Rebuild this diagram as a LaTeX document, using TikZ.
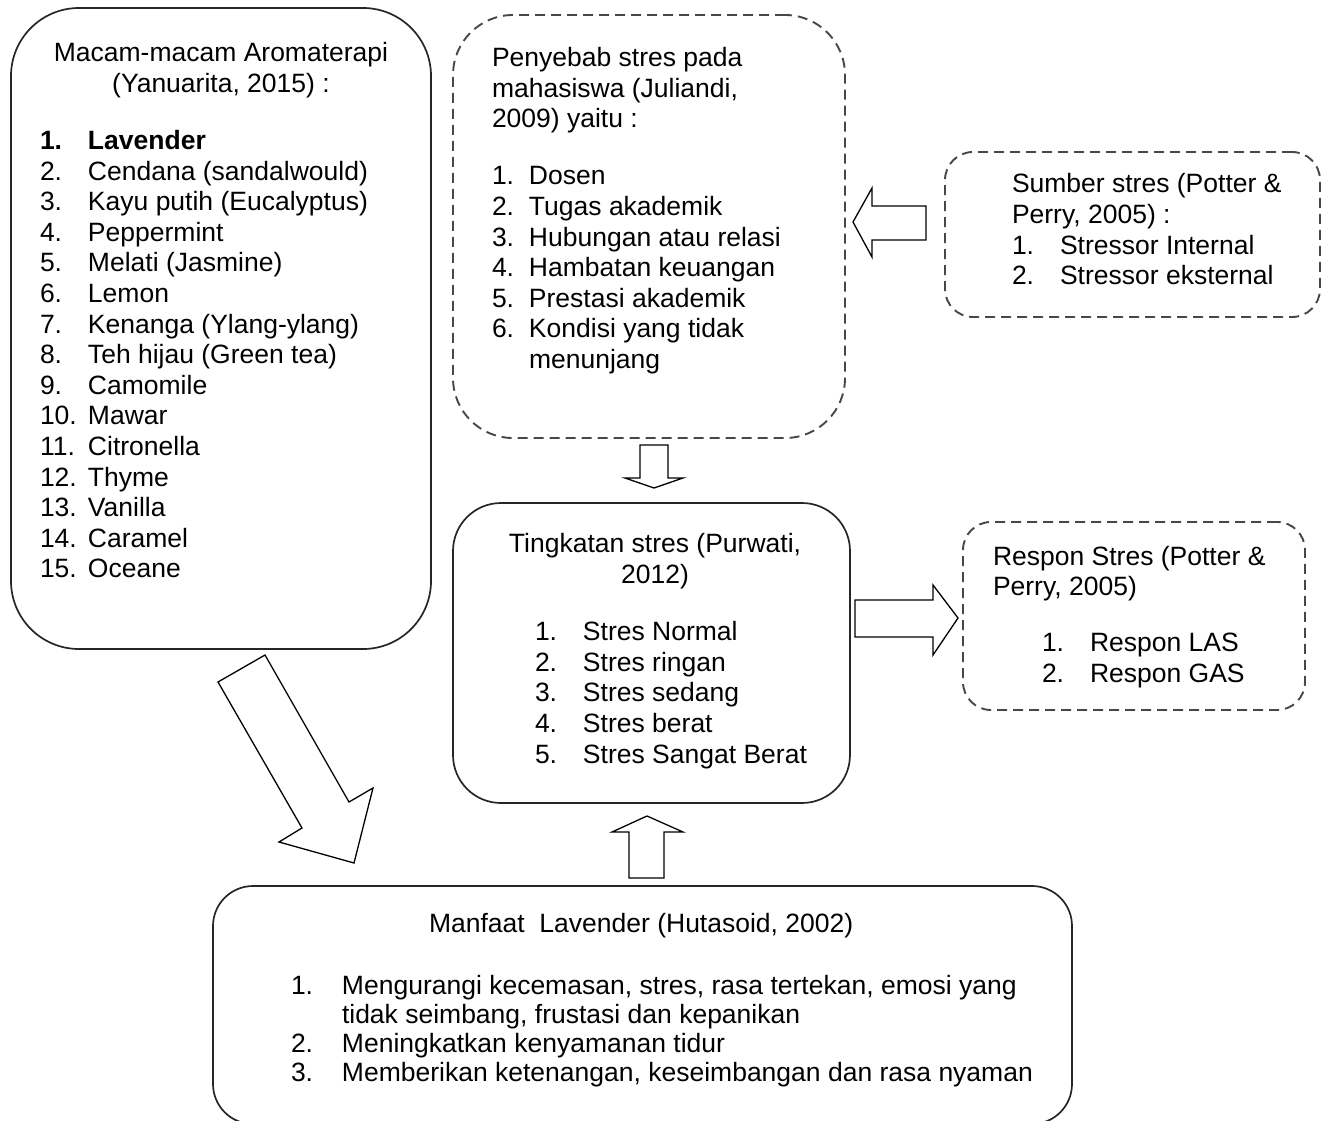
\documentclass[tikz,border=0pt]{standalone}
\usepackage{fontspec}
\setmainfont{Liberation Sans}
\begin{document}
\begin{tikzpicture}[x=1pt,y=-1pt,
  every node/.style={inner sep=0pt,outer sep=0pt,font=\fontsize{26.5}{30.6}\selectfont},
  solidbox/.style={draw=black!85,line width=1.7pt,rectangle},
  dashbox/.style={draw=black!72,line width=1.9pt,rectangle,dash pattern=on 10pt off 6pt},
  blockarrow/.style={draw=black,line width=1.3pt,fill=white,line join=miter},
  txt/.style={anchor=base west},
  ctxt/.style={anchor=base}]
\useasboundingbox (0,0) rectangle (1328,1121);

% boxes
\node[solidbox,rounded corners=68pt,minimum width=420pt,minimum height=641pt] (b1) at (221,328.5) {};
\node[dashbox,rounded corners=60pt,minimum width=392pt,minimum height=423pt] (b2) at (649,226.5) {};
\node[dashbox,rounded corners=28pt,minimum width=375pt,minimum height=165pt] (b3) at (1132.5,234.5) {};
\node[solidbox,rounded corners=48pt,minimum width=397pt,minimum height=300pt] (b4) at (651.5,653) {};
\node[dashbox,rounded corners=28pt,minimum width=342pt,minimum height=188pt] (b5) at (1134,616) {};
\node[solidbox,rounded corners=40pt,minimum width=859pt,minimum height=238pt] (b6) at (642.5,1005) {};

% box 1 text
\node[ctxt] (b1title) at (221,62) {\begin{tabular}[t]{@{}c@{}}Macam-macam Aromaterapi\\(Yanuarita, 2015) :\end{tabular}};
\node[txt] (b1list) at (40,149.5) {\begin{tabular}[t]{@{}p{48pt}@{}l@{}}
\textbf{1.} & \textbf{Lavender}\\
2. & Cendana (sandalwould)\\
3. & Kayu putih (Eucalyptus)\\
4. & Peppermint\\
5. & Melati (Jasmine)\\
6. & Lemon\\
7. & Kenanga (Ylang-ylang)\\
8. & Teh hijau (Green tea)\\
9. & Camomile\\
10. & Mawar\\
11. & Citronella\\
12. & Thyme\\
13. & Vanilla\\
14. & Caramel\\
15. & Oceane
\end{tabular}};

% box 2 text
\node[txt] (b2title) at (492,66.7) {\begin{tabular}[t]{@{}l@{}}Penyebab stres pada\\mahasiswa (Juliandi,\\2009) yaitu :\end{tabular}};
\node[txt] (b2list) at (492,185) {\begin{tabular}[t]{@{}p{37pt}@{}l@{}}
1. & Dosen\\
2. & Tugas akademik\\
3. & Hubungan atau relasi\\
4. & Hambatan keuangan\\
5. & Prestasi akademik\\
6. & Kondisi yang tidak\\
   & menunjang
\end{tabular}};

% box 3 text
\node[txt] (b3text) at (1012,193) {\begin{tabular}[t]{@{}p{48pt}@{}l@{}}
\multicolumn{2}{@{}l@{}}{Sumber stres (Potter \&}\\
\multicolumn{2}{@{}l@{}}{Perry, 2005) :}\\
1. & Stressor Internal\\
2. & Stressor eksternal
\end{tabular}};

% box 4 text
\node[ctxt] (b4title) at (655,552.7) {\begin{tabular}[t]{@{}c@{}}Tingkatan stres (Purwati,\\2012)\end{tabular}};
\node[txt] (b4list) at (535,640.7) {\begin{tabular}[t]{@{}p{48pt}@{}l@{}}
1. & Stres Normal\\
2. & Stres ringan\\
3. & Stres sedang\\
4. & Stres berat\\
5. & Stres Sangat Berat
\end{tabular}};

% box 5 text
\node[txt] (b5title) at (993,565) {\begin{tabular}[t]{@{}l@{}}Respon Stres (Potter \&\\Perry, 2005)\end{tabular}};
\node[txt] (b5list) at (1042,651.7) {\begin{tabular}[t]{@{}p{48pt}@{}l@{}}
1. & Respon LAS\\
2. & Respon GAS
\end{tabular}};

% box 6 text
\node[txt] (b6title) at (429,932.7) {Manfaat\ \ Lavender (Hutasoid, 2002)};
\node[txt,font=\fontsize{26.5}{29}\selectfont] (b6list) at (291,994) {\begin{tabular}[t]{@{}p{51pt}@{}l@{}}
1. & Mengurangi kecemasan, stres, rasa tertekan, emosi yang\\
   & tidak seimbang, frustasi dan kepanikan\\
2. & Meningkatkan kenyamanan tidur\\
3. & Memberikan ketenangan, keseimbangan dan rasa nyaman
\end{tabular}};

% block arrows
\draw[blockarrow] (853,222) -- (872,188) -- (872,206) -- (926,206) -- (926,240) -- (872,240) -- (872,257) -- cycle;
\draw[blockarrow] (640,445) -- (668,445) -- (668,478) -- (683,478) -- (654,488) -- (625,478) -- (640,478) -- cycle;
\draw[blockarrow] (629,878) -- (664,878) -- (664,832) -- (683,832) -- (647,816) -- (612,832) -- (629,832) -- cycle;
\draw[blockarrow] (855,600) -- (933,600) -- (933,585) -- (958,618) -- (933,655) -- (933,637) -- (855,637) -- cycle;
\draw[blockarrow] (265,655) -- (349,802) -- (373,788) -- (354,863) -- (279,842) -- (302,828) -- (218,682) -- cycle;
\end{tikzpicture}
\end{document}
